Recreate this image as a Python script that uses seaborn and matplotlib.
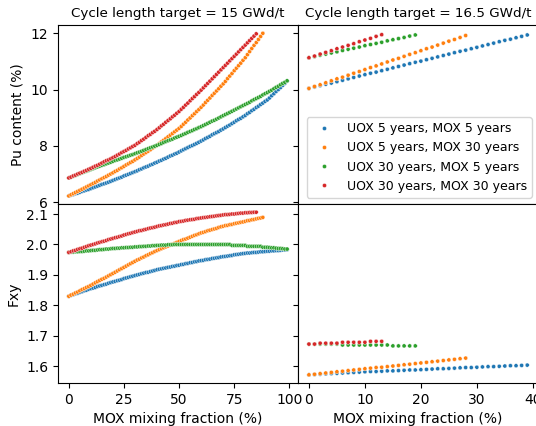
import matplotlib
matplotlib.use("Agg")
import matplotlib.pyplot as plt
from matplotlib.ticker import MultipleLocator
import seaborn as sns
import pandas as pd

# ---------------- data ----------------
series_labels = ["UOX 5 years, MOX 5 years", "UOX 5 years, MOX 30 years",
                 "UOX 30 years, MOX 5 years", "UOX 30 years, MOX 30 years"]
cycle_titles = ["Cycle length target = 15 GWd/t", "Cycle length target = 16.5 GWd/t"]

# Cycle 15 GWd/t : Pu content (%) vs MOX fraction 0,1,2,...
pu15_u5m5 = [6.22, 6.25, 6.27, 6.30, 6.32, 6.35, 6.38, 6.40, 6.43, 6.45, 6.48,
             6.51, 6.54, 6.57, 6.60, 6.63, 6.65, 6.68, 6.71, 6.74, 6.77,
             6.80, 6.83, 6.86, 6.89, 6.93, 6.96, 6.99, 7.02, 7.05, 7.08,
             7.11, 7.15, 7.18, 7.22, 7.25, 7.28, 7.32, 7.35, 7.39, 7.42,
             7.46, 7.49, 7.53, 7.56, 7.60, 7.64, 7.67, 7.71, 7.74, 7.78,
             7.82, 7.86, 7.90, 7.94, 7.98, 8.01, 8.05, 8.09, 8.13, 8.17,
             8.21, 8.26, 8.30, 8.34, 8.39, 8.43, 8.47, 8.51, 8.56, 8.60,
             8.65, 8.70, 8.74, 8.79, 8.84, 8.89, 8.94, 8.98, 9.03, 9.08,
             9.14, 9.19, 9.25, 9.30, 9.36, 9.41, 9.47, 9.52, 9.58, 9.63,
             9.70, 9.78, 9.85, 9.93, 10.00, 10.07, 10.15, 10.22, 10.30]
pu15_u5m30 = [6.22, 6.26, 6.30, 6.34, 6.38, 6.42, 6.46, 6.50, 6.54, 6.58, 6.62,
              6.66, 6.70, 6.75, 6.79, 6.83, 6.87, 6.91, 6.96, 7.00, 7.04,
              7.09, 7.13, 7.18, 7.22, 7.27, 7.32, 7.36, 7.41, 7.45, 7.50,
              7.55, 7.60, 7.66, 7.71, 7.76, 7.81, 7.86, 7.92, 7.97, 8.02,
              8.08, 8.14, 8.20, 8.26, 8.32, 8.38, 8.44, 8.50, 8.56, 8.62,
              8.69, 8.77, 8.84, 8.92, 8.99, 9.07, 9.14, 9.22, 9.29, 9.37,
              9.45, 9.54, 9.62, 9.70, 9.79, 9.87, 9.95, 10.03, 10.12, 10.20,
              10.29, 10.39, 10.48, 10.57, 10.67, 10.76, 10.85, 10.94, 11.04, 11.13,
              11.24, 11.35, 11.46, 11.57, 11.67, 11.78, 11.89, 12.00]
pu15_u30m5 = [6.86, 6.89, 6.92, 6.95, 6.98, 7.01, 7.04, 7.07, 7.10, 7.13, 7.16,
              7.19, 7.22, 7.25, 7.28, 7.31, 7.33, 7.36, 7.39, 7.42, 7.45,
              7.48, 7.50, 7.53, 7.56, 7.59, 7.61, 7.64, 7.67, 7.69, 7.72,
              7.75, 7.78, 7.81, 7.84, 7.87, 7.90, 7.93, 7.96, 7.99, 8.02,
              8.05, 8.08, 8.12, 8.15, 8.18, 8.21, 8.24, 8.28, 8.31, 8.34,
              8.37, 8.41, 8.44, 8.48, 8.51, 8.54, 8.58, 8.61, 8.65, 8.68,
              8.72, 8.76, 8.80, 8.84, 8.88, 8.91, 8.95, 8.99, 9.03, 9.07,
              9.11, 9.15, 9.19, 9.23, 9.27, 9.31, 9.35, 9.39, 9.43, 9.47,
              9.51, 9.55, 9.60, 9.64, 9.68, 9.72, 9.76, 9.81, 9.85, 9.89,
              9.94, 9.98, 10.03, 10.08, 10.12, 10.17, 10.22, 10.26, 10.31]
pu15_u30m30 = [6.86, 6.89, 6.93, 6.96, 7.00, 7.03, 7.06, 7.10, 7.13, 7.17, 7.20,
               7.24, 7.28, 7.31, 7.35, 7.39, 7.43, 7.47, 7.50, 7.54, 7.58,
               7.62, 7.67, 7.71, 7.76, 7.80, 7.84, 7.89, 7.93, 7.98, 8.02,
               8.08, 8.13, 8.19, 8.24, 8.30, 8.36, 8.41, 8.47, 8.52, 8.58,
               8.64, 8.71, 8.77, 8.84, 8.90, 8.96, 9.03, 9.09, 9.16, 9.22,
               9.30, 9.37, 9.45, 9.52, 9.60, 9.68, 9.75, 9.83, 9.90, 9.98,
               10.06, 10.14, 10.22, 10.30, 10.38, 10.46, 10.54, 10.62, 10.70, 10.78,
               10.86, 10.94, 11.02, 11.10, 11.18, 11.26, 11.34, 11.42, 11.50, 11.58,
               11.66, 11.74, 11.82, 11.90, 11.98]

# Cycle 15 GWd/t : Fxy
fxy15_u5m5 = [1.830, 1.833, 1.835, 1.838, 1.840, 1.843, 1.845, 1.848, 1.850, 1.853, 1.855,
              1.857, 1.859, 1.862, 1.864, 1.866, 1.868, 1.870, 1.873, 1.875, 1.877,
              1.879, 1.881, 1.883, 1.885, 1.888, 1.890, 1.892, 1.894, 1.896, 1.898,
              1.900, 1.902, 1.904, 1.906, 1.908, 1.909, 1.911, 1.913, 1.915, 1.917,
              1.919, 1.920, 1.922, 1.923, 1.925, 1.926, 1.928, 1.929, 1.931, 1.932,
              1.934, 1.935, 1.937, 1.938, 1.940, 1.941, 1.943, 1.944, 1.946, 1.947,
              1.948, 1.950, 1.951, 1.952, 1.954, 1.955, 1.956, 1.957, 1.959, 1.960,
              1.961, 1.962, 1.963, 1.964, 1.966, 1.967, 1.968, 1.969, 1.970, 1.971,
              1.972, 1.972, 1.973, 1.974, 1.974, 1.975, 1.976, 1.976, 1.977, 1.978,
              1.978, 1.979, 1.979, 1.980, 1.980, 1.981, 1.982, 1.982, 1.983]
fxy15_u5m30 = [1.830, 1.834, 1.837, 1.841, 1.844, 1.848, 1.852, 1.855, 1.859, 1.862, 1.866,
               1.870, 1.874, 1.878, 1.882, 1.886, 1.889, 1.893, 1.897, 1.901, 1.905,
               1.909, 1.913, 1.917, 1.921, 1.925, 1.929, 1.933, 1.937, 1.941, 1.945,
               1.949, 1.952, 1.956, 1.959, 1.963, 1.966, 1.970, 1.973, 1.977, 1.980,
               1.983, 1.986, 1.989, 1.992, 1.995, 1.998, 2.001, 2.004, 2.007, 2.010,
               2.013, 2.016, 2.018, 2.021, 2.024, 2.027, 2.030, 2.032, 2.035, 2.038,
               2.040, 2.042, 2.045, 2.047, 2.049, 2.051, 2.053, 2.056, 2.058, 2.060,
               2.062, 2.063, 2.065, 2.066, 2.068, 2.070, 2.071, 2.073, 2.074, 2.076,
               2.078, 2.079, 2.081, 2.082, 2.084, 2.086, 2.087, 2.089]
fxy15_u30m5 = [1.974, 1.975, 1.975, 1.976, 1.976, 1.977, 1.977, 1.978, 1.979, 1.979, 1.980,
               1.981, 1.981, 1.982, 1.983, 1.983, 1.984, 1.985, 1.985, 1.986, 1.987,
               1.987, 1.988, 1.988, 1.989, 1.989, 1.990, 1.990, 1.991, 1.991, 1.992,
               1.992, 1.993, 1.993, 1.994, 1.994, 1.995, 1.995, 1.996, 1.996, 1.997,
               1.997, 1.998, 1.998, 1.998, 1.999, 1.999, 1.999, 2.000, 2.000, 2.000,
               2.000, 2.000, 2.000, 2.000, 2.000, 2.000, 2.000, 2.000, 2.000, 2.000,
               2.000, 2.000, 2.000, 2.000, 2.000, 2.000, 2.000, 2.000, 2.000, 2.000,
               2.000, 2.000, 2.000, 1.997, 1.997, 1.997, 1.997, 1.997, 1.997, 1.997,
               1.994, 1.994, 1.994, 1.994, 1.994, 1.994, 1.994, 1.991, 1.991, 1.991,
               1.990, 1.989, 1.989, 1.988, 1.987, 1.987, 1.986, 1.985, 1.985]
fxy15_u30m30 = [1.974, 1.976, 1.979, 1.981, 1.984, 1.986, 1.988, 1.991, 1.993, 1.996, 1.998,
                2.000, 2.002, 2.005, 2.007, 2.009, 2.011, 2.013, 2.016, 2.018, 2.020,
                2.022, 2.024, 2.026, 2.028, 2.031, 2.033, 2.035, 2.037, 2.039, 2.041,
                2.043, 2.045, 2.046, 2.048, 2.050, 2.052, 2.054, 2.055, 2.057, 2.059,
                2.061, 2.062, 2.064, 2.065, 2.067, 2.069, 2.070, 2.072, 2.073, 2.075,
                2.076, 2.077, 2.079, 2.080, 2.081, 2.082, 2.083, 2.085, 2.086, 2.087,
                2.088, 2.089, 2.090, 2.091, 2.092, 2.093, 2.094, 2.095, 2.096, 2.097,
                2.098, 2.098, 2.099, 2.100, 2.100, 2.101, 2.102, 2.103, 2.103, 2.104,
                2.104, 2.105, 2.105, 2.106, 2.106]

# Cycle 16.5 GWd/t : Pu content (%)
pu165_u5m5 = [10.04, 10.09, 10.14, 10.19, 10.23, 10.28, 10.33, 10.38, 10.43, 10.48,
              10.53, 10.58, 10.62, 10.67, 10.72, 10.77, 10.82, 10.87, 10.92, 10.97,
              11.01, 11.06, 11.11, 11.16, 11.21, 11.26, 11.31, 11.36, 11.40, 11.45,
              11.50, 11.55, 11.60, 11.65, 11.70, 11.75, 11.79, 11.84, 11.89, 11.94]
pu165_u5m30 = [10.04, 10.11, 10.17, 10.24, 10.31, 10.38, 10.44, 10.51, 10.58, 10.64,
               10.71, 10.78, 10.84, 10.91, 10.98, 11.05, 11.11, 11.18, 11.25, 11.31,
               11.38, 11.45, 11.51, 11.58, 11.65, 11.72, 11.78, 11.85, 11.92]
pu165_u30m5 = [11.13, 11.17, 11.22, 11.26, 11.30, 11.34, 11.39, 11.43, 11.47, 11.51,
               11.56, 11.60, 11.64, 11.68, 11.73, 11.77, 11.81, 11.85, 11.90, 11.94]
pu165_u30m30 = [11.13, 11.19, 11.26, 11.32, 11.38, 11.45, 11.51, 11.57, 11.63, 11.70,
                11.76, 11.82, 11.89, 11.95]

# Cycle 16.5 GWd/t : Fxy
fxy165_u5m5 = [1.572, 1.573, 1.574, 1.575, 1.576, 1.577, 1.578, 1.579, 1.580, 1.581,
               1.582, 1.583, 1.583, 1.584, 1.585, 1.585, 1.586, 1.587, 1.588, 1.588,
               1.589, 1.590, 1.591, 1.592, 1.592, 1.593, 1.594, 1.595, 1.596, 1.596,
               1.597, 1.598, 1.599, 1.599, 1.600, 1.601, 1.602, 1.602, 1.603, 1.604]
fxy165_u5m30 = [1.572, 1.574, 1.576, 1.578, 1.580, 1.582, 1.584, 1.586, 1.588, 1.590,
                1.592, 1.594, 1.596, 1.597, 1.599, 1.601, 1.603, 1.605, 1.607, 1.609,
                1.611, 1.613, 1.615, 1.617, 1.619, 1.621, 1.623, 1.625, 1.627]
fxy165_u30m5 = [1.673, 1.673, 1.673, 1.673, 1.673, 1.673, 1.670, 1.670, 1.670, 1.670,
                1.670, 1.670, 1.670, 1.670, 1.670, 1.667, 1.667, 1.667, 1.667, 1.667]
fxy165_u30m30 = [1.673, 1.673, 1.676, 1.676, 1.676, 1.676, 1.679, 1.679, 1.679, 1.679,
                 1.679, 1.682, 1.682, 1.682]

panels = {
    (0, 0): [pu15_u5m5, pu15_u5m30, pu15_u30m5, pu15_u30m30],
    (0, 1): [pu165_u5m5, pu165_u5m30, pu165_u30m5, pu165_u30m30],
    (1, 0): [fxy15_u5m5, fxy15_u5m30, fxy15_u30m5, fxy15_u30m30],
    (1, 1): [fxy165_u5m5, fxy165_u5m30, fxy165_u30m5, fxy165_u30m30],
}

palette = ["#1f77b4", "#ff7f0e", "#2ca02c", "#d62728"]

# ---------------- figure ----------------
plt.rcParams["font.family"] = ["DejaVu Sans"]
fig, axes = plt.subplots(2, 2, figsize=(5.36, 4.26), dpi=100,
                         sharex="col", sharey="row")
fig.subplots_adjust(left=0.108, right=1.004, top=0.941, bottom=0.101,
                    wspace=0, hspace=0)

for (r, c), series in panels.items():
    ax = axes[r, c]
    rows = []
    for lab, vals in zip(series_labels, series):
        for i, v in enumerate(vals):
            rows.append({"frac": i, "value": v, "label": lab})
    df = pd.DataFrame(rows)
    sns.scatterplot(data=df, x="frac", y="value", hue="label",
                    hue_order=series_labels, palette=palette, s=9,
                    linewidth=0.3, edgecolor="white", ax=ax,
                    legend=(r == 0 and c == 1))
    ax.set_xlabel("")
    ax.set_ylabel("")

axes[0, 0].set_title(cycle_titles[0], fontsize=9.7)
axes[0, 1].set_title(cycle_titles[1], fontsize=9.7)
axes[0, 0].set_ylabel("Pu content (%)", fontsize=10)
axes[1, 0].set_ylabel("Fxy", fontsize=10)
axes[1, 0].set_xlabel("MOX mixing fraction (%)", fontsize=10)
axes[1, 1].set_xlabel("MOX mixing fraction (%)", fontsize=10)

axes[1, 0].xaxis.set_major_locator(MultipleLocator(25))
axes[1, 1].xaxis.set_major_locator(MultipleLocator(10))
axes[0, 0].yaxis.set_major_locator(MultipleLocator(2))
axes[1, 0].yaxis.set_major_locator(MultipleLocator(0.1))

h, l = axes[0, 1].get_legend_handles_labels()
axes[0, 1].legend(h, l, loc="lower right", fontsize=9)

fig.savefig("out.png", dpi=100)
